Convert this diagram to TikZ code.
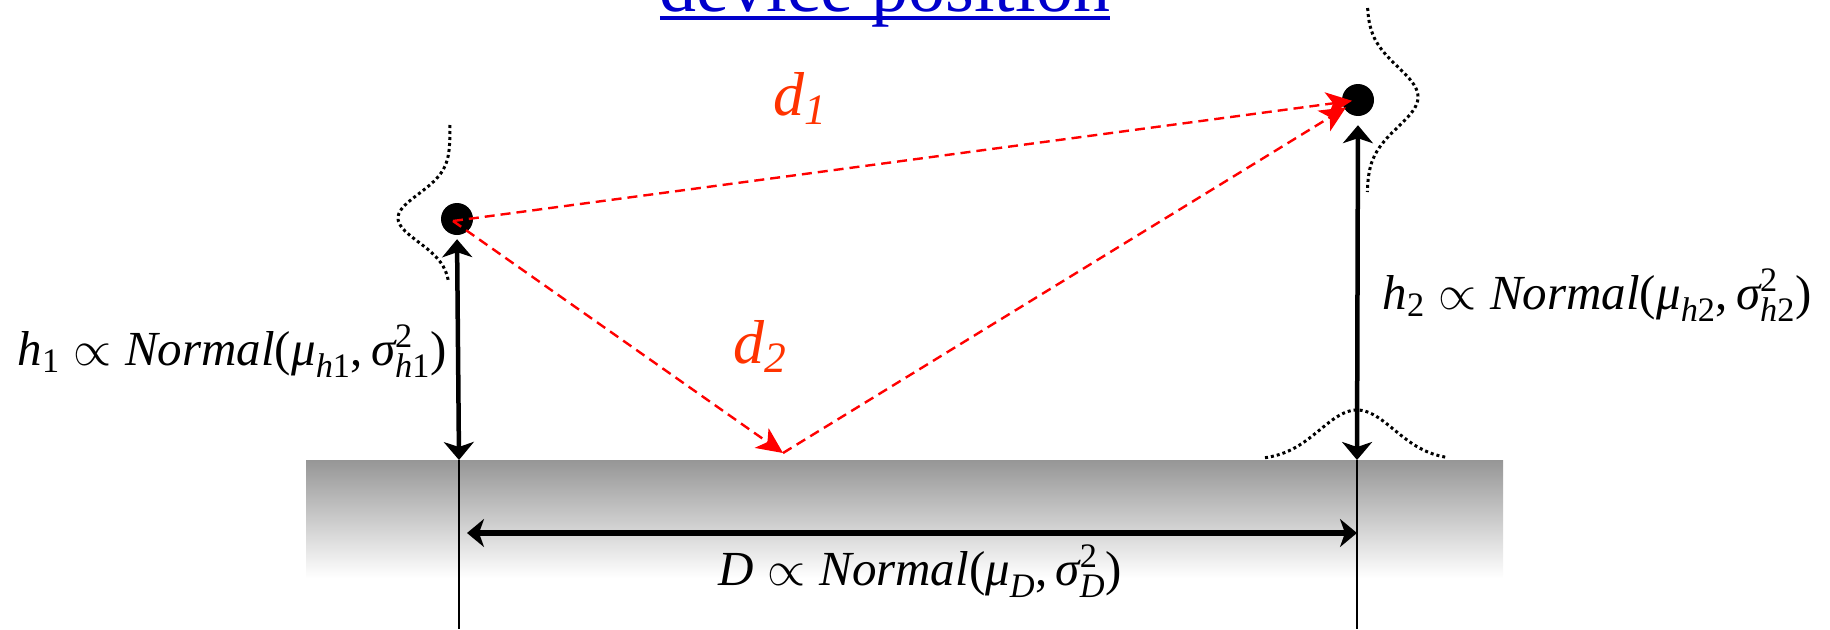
\documentclass[tikz,border=0pt]{standalone}
\usepackage{fix-cm}
\usepackage{amsmath}
\usepackage{fontspec}
\setmainfont{Liberation Serif}
\usetikzlibrary{arrows.meta}
\definecolor{dashred}{RGB}{255,0,0}
\definecolor{lblred}{RGB}{255,51,0}
\definecolor{ttlblue}{RGB}{0,0,204}
\definecolor{gnd}{RGB}{150,150,150}
\newcommand{\prp}{\mathrel{\propto}}
\begin{document}
\begin{tikzpicture}[x=1pt,y=-1pt,
  devdot/.style={circle, fill=black, minimum size=32pt, inner sep=0pt},
  harrow/.style={line width=4.5pt, {Stealth[length=18pt,width=30pt,inset=5pt]}-{Stealth[length=18pt,width=30pt,inset=5pt]}},
  darrow/.style={line width=5.5pt, {Stealth[length=17pt,width=28pt,inset=5pt]}-{Stealth[length=17pt,width=28pt,inset=5pt]}},
  thinline/.style={line width=2.2pt},
  redd/.style={dashred, line width=2.4pt, dash pattern=on 10pt off 6pt, -{Stealth[length=26pt,width=24pt,inset=7pt]}},
  dotcurve/.style={line width=3pt, dash pattern=on 3pt off 3pt},
  eqlab/.style={anchor=base, inner sep=0pt, font=\fontsize{49}{51}\selectfont},
  dlab/.style={anchor=base west, inner sep=0pt, text=lblred, font=\fontsize{62}{62}\selectfont\itshape}]
\useasboundingbox (0,0) rectangle (1830,629);
% ground
\shade[top color=gnd, bottom color=white] (306,460) rectangle (1503,578);
% title
\node[anchor=base, inner sep=0pt, text=ttlblue, font=\fontsize{74}{74}\selectfont] (title) at (885,12) {device position};
\draw[ttlblue, line width=4pt] ([yshift=-6pt]title.base west) -- ([yshift=-6pt]title.base east);
% coordinates
\coordinate (g1) at (459,460);
\coordinate (g2) at (1357,460);
\coordinate (e1) at (459,629);
\coordinate (e2) at (1357,629);
\coordinate (b1) at (459,533);
\coordinate (b2) at (1357,533);
\coordinate (r) at (783,453);
% devices
\node[devdot] (p1) at (457,219) {};
\node[devdot] (p2) at (1358,100) {};
% thin vertical lines
\draw[thinline] (g1) -- (e1);
\draw[thinline] (g2) -- (e2);
% height arrows
\draw[harrow, shorten <=4pt] (p1.south) -- (g1);
\draw[harrow, shorten <=9pt] (p2.south) -- (g2);
% distance arrow
\draw[darrow, shorten <=8pt] (b1) -- (b2);
% distribution curves
\draw[dotcurve] plot[domain=125:280, samples=80, variable=\t] ({450-52*exp(-((\t-218)^2)/(2*24^2))}, \t);
\draw[dotcurve] plot[domain=8:192, samples=80, variable=\t] ({1367+51*exp(-((\t-97)^2)/(2*30^2))}, \t);
\draw[dotcurve] plot[domain=1265:1448, samples=80, variable=\t] (\t, {460-50*exp(-((\t-1357)^2)/(2*37^2))});
% signal paths
\draw[redd, shorten >=6pt] ([xshift=-4pt,yshift=-2pt]p1.center) -- (p2.center);
\draw[redd] ([xshift=-4pt,yshift=-2pt]p1.center) -- (r);
\draw[redd, shorten >=14pt] (r) -- (p2.center);
% labels
\node[dlab] (d1) at (773,115) {d\textsubscript{1}};
\node[dlab] (d2) at (733,363) {d\textsubscript{2}};
\node[eqlab] (h1) at (232,365) {$\textit{h}_{\textrm{1}}\prp\textit{Normal}\textrm{(}\textit{μ}_{\textit{h}\textrm{1}}\textrm{,}\,\textit{σ}^{\textrm{2}}_{\textit{h}\textrm{1}}\textrm{)}$};
\node[eqlab] (h2) at (1597,309) {$\textit{h}_{\textrm{2}}\prp\textit{Normal}\textrm{(}\textit{μ}_{\textit{h}\textrm{2}}\textrm{,}\,\textit{σ}^{\textrm{2}}_{\textit{h}\textrm{2}}\textrm{)}$};
\node[eqlab] (dl) at (920,585) {$\textit{D}\prp\textit{Normal}\textrm{(}\textit{μ}_{\textit{D}}\textrm{,}\,\textit{σ}^{\textrm{2}}_{\textit{D}}\textrm{)}$};
\end{tikzpicture}
\end{document}
